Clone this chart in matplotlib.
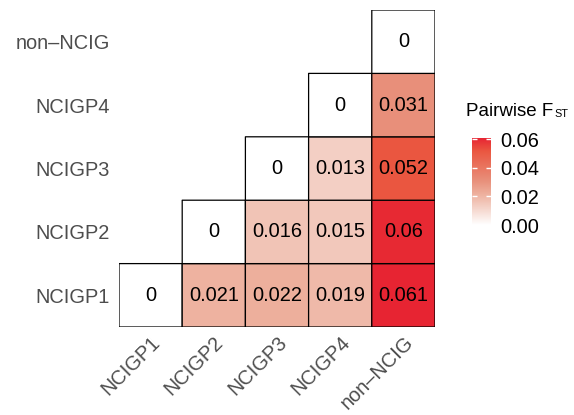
import numpy as np
import matplotlib
matplotlib.use("Agg")
import matplotlib.pyplot as plt
from matplotlib.colors import LinearSegmentedColormap

# ---- data ----
categories = ["NCIGP1", "NCIGP2", "NCIGP3", "NCIGP4", "non\u2013NCIG"]
row_NCIGP1 = [0, 0.021, 0.022, 0.019, 0.061]
row_NCIGP2 = [np.nan, 0, 0.016, 0.015, 0.060]
row_NCIGP3 = [np.nan, np.nan, 0, 0.013, 0.052]
row_NCIGP4 = [np.nan, np.nan, np.nan, 0, 0.031]
row_nonNCIG = [np.nan, np.nan, np.nan, np.nan, 0]
cbar_ticks = [0.00, 0.02, 0.04, 0.06]

Z = np.array([row_NCIGP1, row_NCIGP2, row_NCIGP3, row_NCIGP4, row_nonNCIG])

# ---- colour gradient (white -> salmon -> red) ----
stops = [
    (0.000, (255, 255, 255)),
    (0.213, (243, 207, 196)),
    (0.344, (238, 178, 160)),
    (0.508, (232, 143, 122)),
    (0.852, (234, 86, 64)),
    (1.000, (231, 36, 50)),
]
cmap = LinearSegmentedColormap.from_list(
    "fst", [(p, tuple(c / 255 for c in rgb)) for p, rgb in stops], N=512)

plt.rcParams["font.family"] = ["Liberation Sans", "DejaVu Sans"]

W, H = 574, 415
fig = plt.figure(figsize=(W / 100, H / 100), dpi=100)
ax = fig.add_axes([119 / W, 1 - 327 / H, (435 - 119) / W, (327 - 10) / H])

n = len(categories)
edges = np.arange(n + 1) - 0.5
mesh = ax.pcolor(edges, edges, np.ma.masked_invalid(Z), cmap=cmap,
                 vmin=0, vmax=np.nanmax(Z), edgecolors="black", linewidth=0.9)
for i in range(n):
    for j in range(n):
        v = Z[i, j]
        if not np.isnan(v):
            ax.text(j, i, f"{v:g}", ha="center", va="center", fontsize=14.4, color="black")

ax.set_xlim(-0.5, n - 0.5)
ax.set_ylim(-0.5, n - 0.5)
ax.set_xticks(range(n))
ax.set_yticks(range(n))
ax.set_xticklabels(categories, rotation=45, ha="right", va="top", rotation_mode="anchor")
ax.set_yticklabels(categories)
ax.tick_params(length=0, labelsize=14.4, labelcolor="#4D4D4D")
ax.tick_params(axis="y", pad=6.5)
ax.tick_params(axis="x", pad=4)
for s in ax.spines.values():
    s.set_visible(False)

cax = fig.add_axes([472 / W, 1 - 225 / H, 19 / W, 87 / H])
cb = fig.colorbar(mesh, cax=cax, ticks=cbar_ticks)
cb.outline.set_visible(False)
cax.set_yticklabels([f"{t:.2f}" for t in cbar_ticks])
cax.tick_params(axis="y", direction="in", color="white", width=1, length=3.5,
                left=True, right=True, labelleft=False, labelright=True,
                labelsize=14.4, labelcolor="black", pad=7)

# legend title: "Pairwise F" with small "ST" subscript
t1 = fig.text(466 / W, 1 - 116 / H, "Pairwise F", fontsize=13.5,
              ha="left", va="baseline", color="black")
fig.canvas.draw()
bb = t1.get_window_extent()
fig.text((bb.x1 + 1) / W, 1 - 117 / H, "ST", fontsize=7.8,
         ha="left", va="baseline", color="black")

fig.savefig("out.png", dpi=100)
